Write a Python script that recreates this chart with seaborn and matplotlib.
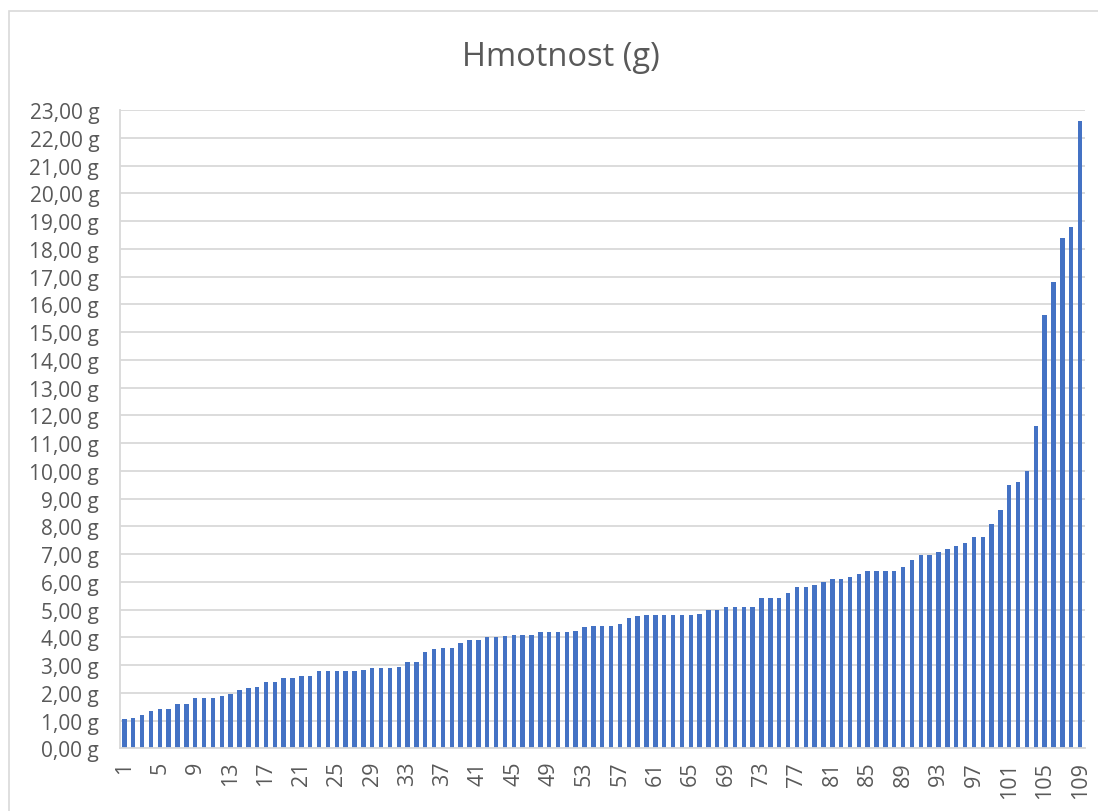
"""Bar chart of sample weights, sorted ascending (Hmotnost)."""

import matplotlib

matplotlib.use("Agg")
import matplotlib.pyplot as plt
import matplotlib.patches as mpatches
from matplotlib.ticker import FuncFormatter, MultipleLocator
import pandas as pd
import seaborn as sns

TITLE = "Hmotnost (g)"
BAR_COLOR = "#4472C4"
TEXT_COLOR = "#595959"
GRID_COLOR = "#D9D9D9"

sample_ids = [str(i) for i in range(1, 110)]
weights_g = [
    1.07, 1.10, 1.20, 1.33, 1.40, 1.40, 1.58, 1.60, 1.80, 1.80,
    1.80, 1.90, 1.96, 2.10, 2.17, 2.22, 2.40, 2.40, 2.52, 2.54,
    2.60, 2.60, 2.80, 2.80, 2.80, 2.80, 2.80, 2.83, 2.88, 2.89,
    2.90, 2.93, 3.10, 3.10, 3.47, 3.57, 3.60, 3.60, 3.80, 3.89,
    3.92, 4.00, 4.00, 4.05, 4.07, 4.07, 4.10, 4.18, 4.18, 4.18,
    4.18, 4.24, 4.36, 4.39, 4.39, 4.39, 4.48, 4.69, 4.75, 4.80,
    4.80, 4.80, 4.80, 4.80, 4.80, 4.85, 5.00, 5.00, 5.09, 5.09,
    5.09, 5.09, 5.40, 5.40, 5.40, 5.60, 5.80, 5.83, 5.88, 6.00,
    6.10, 6.10, 6.19, 6.27, 6.40, 6.40, 6.40, 6.40, 6.52, 6.78,
    6.98, 6.98, 7.08, 7.18, 7.30, 7.40, 7.60, 7.60, 8.10, 8.60,
    9.50, 9.60, 10.00, 11.60, 15.60, 16.80, 18.40, 18.80, 22.60,
]
x_tick_labels = sample_ids[::4]

sns.set_theme(style="white")
plt.rcParams["font.family"] = ["Open Sans", "DejaVu Sans"]

data = pd.DataFrame({"sample": sample_ids, "weight": weights_g})

fig = plt.figure(figsize=(10.98, 8.12), dpi=100)
ax = fig.add_axes([120 / 1098, 1 - 749.3 / 812, 964.5 / 1098, 638.3 / 812])

sns.barplot(data=data, x="sample", y="weight", color=BAR_COLOR, width=0.5,
            saturation=1, linewidth=0, ax=ax)

ax.set_ylim(0, 23)
ax.yaxis.set_major_locator(MultipleLocator(1))
ax.yaxis.set_major_formatter(FuncFormatter(lambda v, _: f"{v:.2f} g".replace(".", ",")))
ax.grid(axis="y", color=GRID_COLOR, linewidth=1.3)
ax.set_axisbelow(True)

ax.set_xticks([sample_ids.index(s) for s in x_tick_labels])
ax.set_xticklabels(x_tick_labels, rotation=90)
ax.set_xlabel("")
ax.set_ylabel("")
ax.tick_params(axis="both", length=0, colors=TEXT_COLOR)
ax.tick_params(axis="y", pad=15, labelsize=15)
ax.tick_params(axis="x", pad=9, labelsize=15.5)

for side in ("top", "right"):
    ax.spines[side].set_visible(False)
for side in ("left", "bottom"):
    ax.spines[side].set_color(GRID_COLOR)
    ax.spines[side].set_linewidth(1.3)

fig.text(561 / 1098, 1 - 58 / 812, TITLE, ha="center", va="center",
         fontsize=23.5, color=TEXT_COLOR)

# chart area border
fig.patches.append(mpatches.Rectangle((9 / 1098, -0.1), 1.2, 1.1 - 12 / 812,
                                      transform=fig.transFigure, fill=False,
                                      edgecolor=GRID_COLOR, linewidth=1.2))

fig.savefig("out.png", dpi=100)
plt.close(fig)
